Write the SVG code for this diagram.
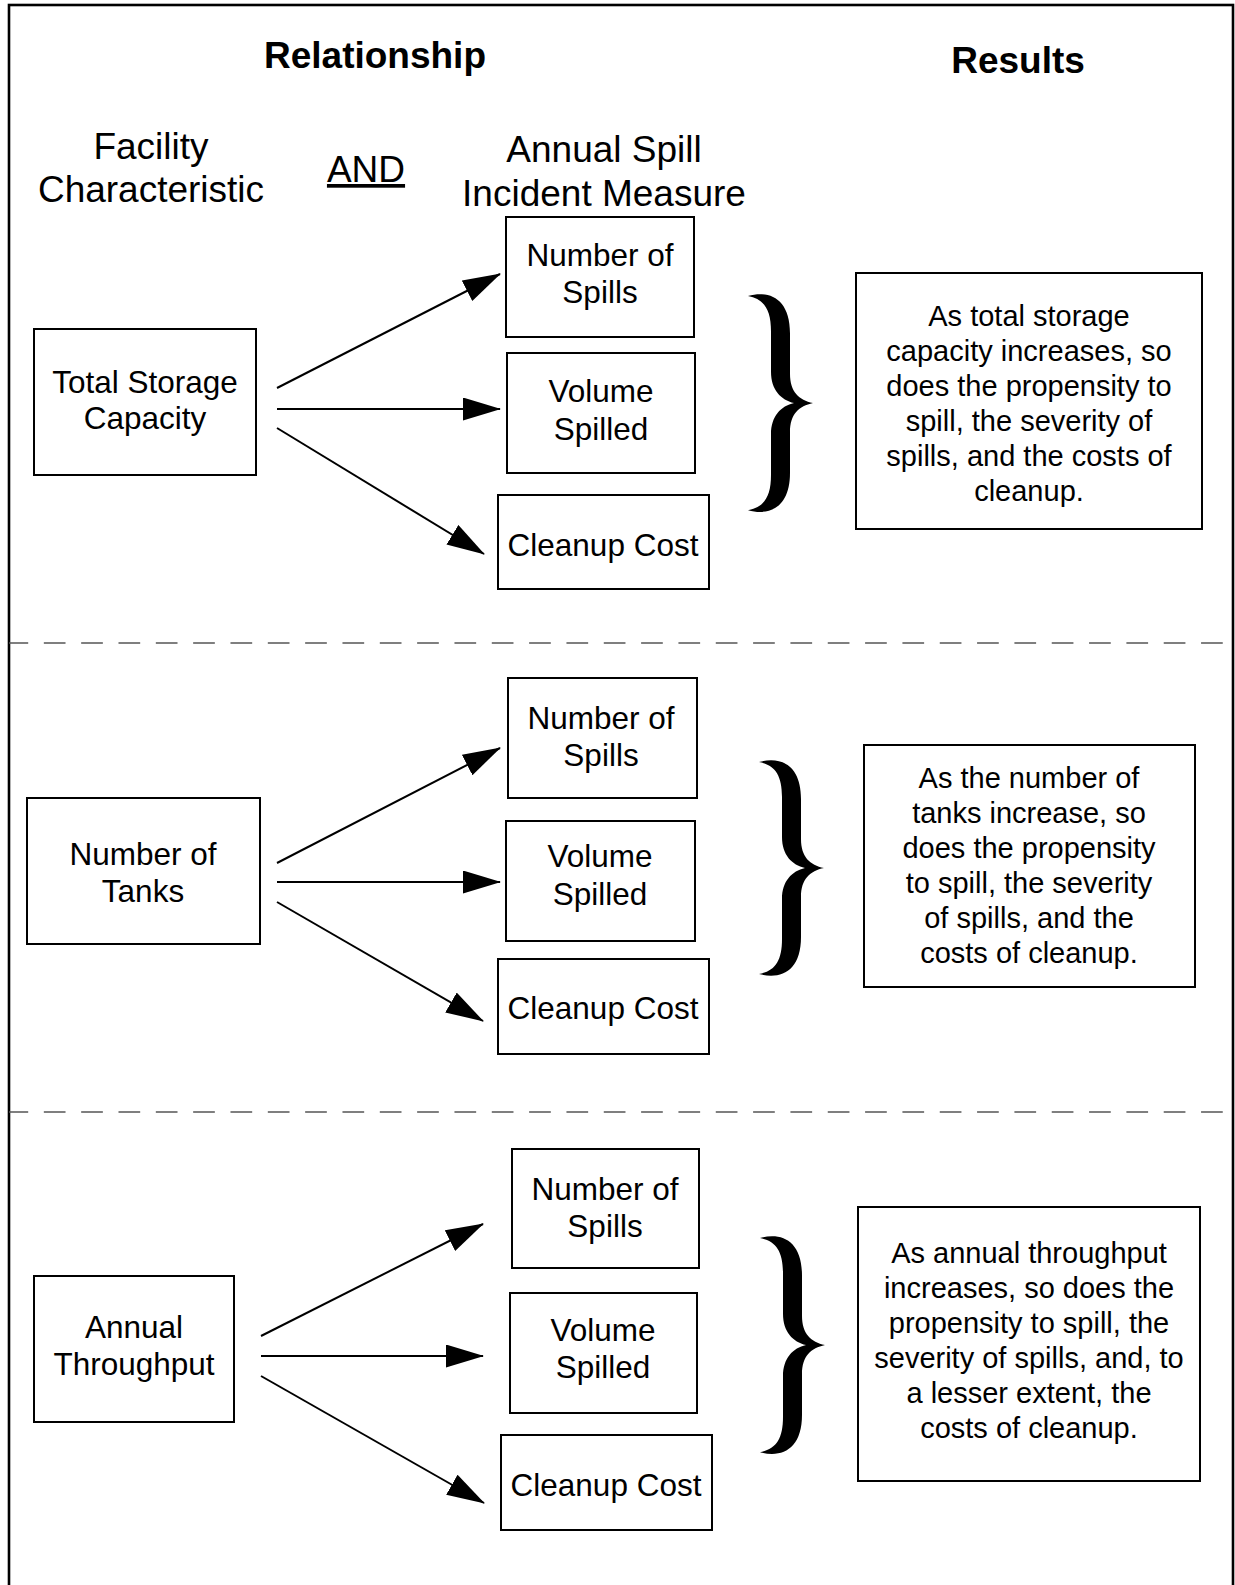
<svg xmlns="http://www.w3.org/2000/svg" width="1235" height="1585" viewBox="0 0 1235 1585">
<style>
text{font-family:"Liberation Sans",Arial,Helvetica,sans-serif;fill:#000;text-anchor:middle}
.h{font-size:37px;font-weight:bold}
.c{font-size:37px}
.b{font-size:31.5px}
.r{font-size:29px}
.box{fill:#fff;stroke:#000;stroke-width:2}
.arr{stroke:#000;stroke-width:2;fill:none;marker-end:url(#ah)}
.dash{stroke:#555;stroke-width:1.6;stroke-dasharray:21.7 15.63;stroke-dashoffset:2.5}
.brace{fill:#000}
</style>
<defs>
<marker id="ah" markerUnits="userSpaceOnUse" markerWidth="40" markerHeight="24" refX="37" refY="11.5" orient="auto">
<path d="M0,0 L38,11.5 L0,23 Z" fill="#000"/>
</marker>
<path id="br" d="M0,3 C22,-3 42,6 42,40 L42,80 C42,98 51,106 65,109 C51,112 42,120 42,138 L42,178 C42,212 22,221 0,215 C16,212 23,202 23,180 L23,140 C23,122 33,112 46,109 C33,106 23,96 23,78 L23,38 C23,16 16,6 0,3 Z"/>
</defs>
<rect x="9" y="5" width="1224" height="1620" fill="#fff" stroke="#000" stroke-width="2.6"/>
<g id="dividers">
<line class="dash" x1="9" y1="643" x2="1233" y2="643"/>
<line class="dash" x1="9" y1="1112" x2="1233" y2="1112"/>
</g>
<g id="headers">
<text class="h" x="375" y="68">Relationship</text>
<text class="h" x="1018" y="73">Results</text>
<text class="c" x="151" y="159">Facility</text>
<text class="c" x="151" y="202">Characteristic</text>
<text class="c" x="366" y="182" text-decoration="underline">AND</text>
<text class="c" x="604" y="162">Annual Spill</text>
<text class="c" x="604" y="206">Incident Measure</text>
</g>
<g id="connectors">
<line class="arr" x1="277" y1="388" x2="500" y2="274"/>
<line class="arr" x1="277" y1="409" x2="500" y2="409"/>
<line class="arr" x1="277" y1="428" x2="484" y2="554"/>
<line class="arr" x1="277" y1="863" x2="500" y2="748"/>
<line class="arr" x1="277" y1="882" x2="500" y2="882"/>
<line class="arr" x1="277" y1="902" x2="483" y2="1021"/>
<line class="arr" x1="261" y1="1336" x2="483" y2="1224"/>
<line class="arr" x1="261" y1="1356" x2="483" y2="1356"/>
<line class="arr" x1="261" y1="1376" x2="484" y2="1503"/>
</g>
<g id="s1-facility"><rect class="box" x="34" y="329" width="222" height="146"/>
<text class="b" x="145" y="393">Total Storage</text><text class="b" x="145" y="429">Capacity</text></g>
<g id="s1-spills"><rect class="box" x="506" y="217" width="188" height="120"/>
<text class="b" x="600" y="266">Number of</text><text class="b" x="600" y="303">Spills</text></g>
<g id="s1-volume"><rect class="box" x="507" y="353" width="188" height="120"/>
<text class="b" x="601" y="402">Volume</text><text class="b" x="601" y="440">Spilled</text></g>
<g id="s1-cost"><rect class="box" x="498" y="495" width="211" height="94"/>
<text class="b" x="603" y="556">Cleanup Cost</text></g>
<g id="s1-brace"><use href="#br" class="brace" transform="translate(748,293) scale(1,1.01)"/></g>
<g id="s1-result"><rect class="box" x="856" y="273" width="346" height="256"/>
<text class="r" x="1029" y="326">As total storage</text>
<text class="r" x="1029" y="361">capacity increases, so</text>
<text class="r" x="1029" y="396">does the propensity to</text>
<text class="r" x="1029" y="431">spill, the severity of</text>
<text class="r" x="1029" y="466">spills, and the costs of</text>
<text class="r" x="1029" y="501">cleanup.</text></g>

<g id="s2-facility"><rect class="box" x="27" y="798" width="233" height="146"/>
<text class="b" x="143" y="865">Number of</text><text class="b" x="143" y="902">Tanks</text></g>
<g id="s2-spills"><rect class="box" x="508" y="678" width="189" height="120"/>
<text class="b" x="601" y="729">Number of</text><text class="b" x="601" y="766">Spills</text></g>
<g id="s2-volume"><rect class="box" x="506" y="821" width="189" height="120"/>
<text class="b" x="600" y="867">Volume</text><text class="b" x="600" y="905">Spilled</text></g>
<g id="s2-cost"><rect class="box" x="498" y="959" width="211" height="95"/>
<text class="b" x="603" y="1019">Cleanup Cost</text></g>
<g id="s2-brace"><use href="#br" class="brace" transform="translate(759,759)"/></g>
<g id="s2-result"><rect class="box" x="864" y="745" width="331" height="242"/>
<text class="r" x="1029" y="788">As the number of</text>
<text class="r" x="1029" y="823">tanks increase, so</text>
<text class="r" x="1029" y="858">does the propensity</text>
<text class="r" x="1029" y="893">to spill, the severity</text>
<text class="r" x="1029" y="928">of spills, and the</text>
<text class="r" x="1029" y="963">costs of cleanup.</text></g>

<g id="s3-facility"><rect class="box" x="34" y="1276" width="200" height="146"/>
<text class="b" x="134" y="1338">Annual</text><text class="b" x="134" y="1375">Throughput</text></g>
<g id="s3-spills"><rect class="box" x="512" y="1149" width="187" height="119"/>
<text class="b" x="605" y="1200">Number of</text><text class="b" x="605" y="1237">Spills</text></g>
<g id="s3-volume"><rect class="box" x="510" y="1293" width="187" height="120"/>
<text class="b" x="603" y="1341">Volume</text><text class="b" x="603" y="1378">Spilled</text></g>
<g id="s3-cost"><rect class="box" x="501" y="1435" width="211" height="95"/>
<text class="b" x="606" y="1496">Cleanup Cost</text></g>
<g id="s3-brace"><use href="#br" class="brace" transform="translate(760,1235) scale(1,1.01)"/></g>
<g id="s3-result"><rect class="box" x="858" y="1207" width="342" height="274"/>
<text class="r" x="1029" y="1263">As annual throughput</text>
<text class="r" x="1029" y="1298">increases, so does the</text>
<text class="r" x="1029" y="1333">propensity to spill, the</text>
<text class="r" x="1029" y="1368">severity of spills, and, to</text>
<text class="r" x="1029" y="1403">a lesser extent, the</text>
<text class="r" x="1029" y="1438">costs of cleanup.</text></g>
</svg>
